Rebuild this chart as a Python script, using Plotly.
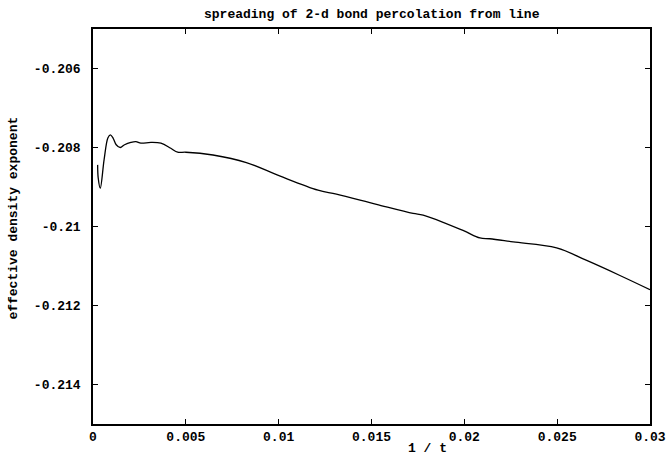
import plotly.graph_objects as go

# data
inv_t = [0.00025, 0.00028, 0.00039, 0.00060, 0.00080, 0.00093, 0.00108, 0.00125,
         0.00147, 0.00170, 0.00204, 0.00231, 0.00258, 0.00312, 0.00366, 0.00419,
         0.00456, 0.00500, 0.00646, 0.00826, 0.01005, 0.01212, 0.01311, 0.01527,
         0.01724, 0.01778, 0.01993, 0.02084, 0.02137, 0.02263, 0.02497, 0.02659,
         0.02838, 0.03000]
exponent = [-0.20844, -0.20877, -0.20903, -0.20830, -0.20776, -0.20768, -0.20776, -0.20793,
            -0.20800, -0.20793, -0.20787, -0.20785, -0.20789, -0.20787, -0.20789, -0.20802,
            -0.20812, -0.20812, -0.20819, -0.20838, -0.20872, -0.20908, -0.20918, -0.20944,
            -0.20967, -0.20971, -0.21010, -0.21029, -0.21031, -0.21039, -0.21054, -0.21086,
            -0.21124, -0.21160]

x_ticks = [0, 0.005, 0.01, 0.015, 0.02, 0.025, 0.03]
x_tick_text = ["0", "0.005", "0.01", "0.015", "0.02", "0.025", "0.03"]
y_ticks = [-0.206, -0.208, -0.21, -0.212, -0.214]
y_tick_text = ["-0.206", "-0.208", "-0.21", "-0.212", "-0.214"]

FONT = "Liberation Mono, DejaVu Sans Mono, monospace"
TXT = dict(family=FONT, size=13, color="black", weight="bold")

fig = go.Figure()
fig.add_trace(go.Scatter(x=inv_t, y=exponent, mode="lines",
                         line=dict(color="black", width=1.3), showlegend=False,
                         line_shape="spline"))

axis_common = dict(showgrid=False, zeroline=False, showline=True, linecolor="black",
                   linewidth=1.5, mirror="ticks", ticks="inside", ticklen=5,
                   tickcolor="black", tickwidth=1, tickfont=TXT)

fig.update_xaxes(range=[0, 0.03], tickvals=x_ticks, ticktext=x_tick_text,
                 ticklabelstandoff=0, **axis_common)
fig.update_yaxes(range=[-0.215, -0.205], tickvals=y_ticks, ticktext=y_tick_text,
                 ticklabelstandoff=8, **axis_common)

fig.update_layout(
    width=668, height=455,
    margin=dict(l=93, r=18, t=29, b=31, autoexpand=False),
    paper_bgcolor="white", plot_bgcolor="white",
    font=TXT,
    annotations=[
        dict(text="spreading of 2-d bond percolation from line", xref="paper", yref="paper",
             x=0.5, y=1, yshift=15, showarrow=False, xanchor="center", yanchor="middle",
             font=TXT),
        dict(text="1 / t", xref="paper", yref="paper", x=0.6, y=0, yshift=-24,
             showarrow=False, xanchor="center", yanchor="middle", font=TXT),
        dict(text="effective density exponent", xref="paper", yref="paper", x=0, y=0.52,
             xshift=-79, textangle=-90, showarrow=False, xanchor="center", yanchor="middle",
             font=TXT),
    ],
)

fig.write_html("out.html", config={"displayModeBar": False},
               post_script="document.body.style.margin='0px';")
